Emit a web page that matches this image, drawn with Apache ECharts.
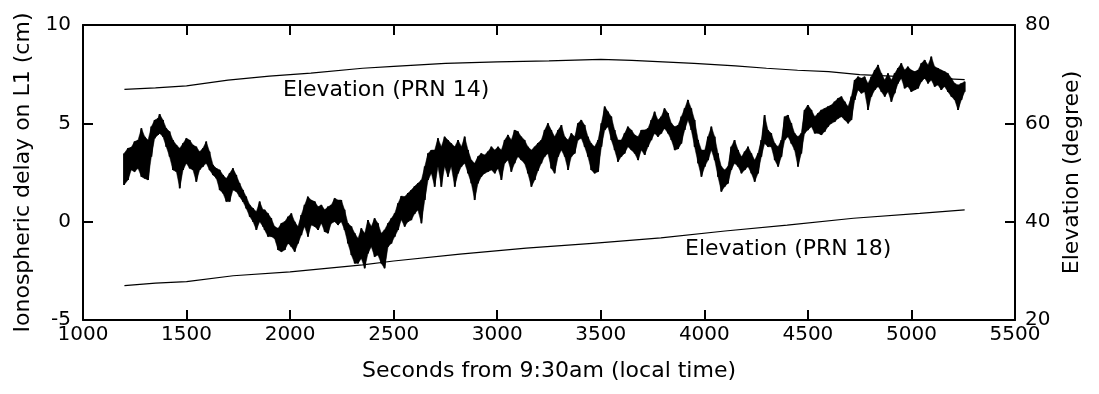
<!DOCTYPE html>
<html>
<head>
<meta charset="utf-8">
<script src="https://cdn.jsdelivr.net/npm/echarts@6/dist/echarts.min.js"></script>
<style>
  html, body { margin: 0; padding: 0; background: #fff; }
  #main { width: 1099px; height: 394px; }
</style>
</head>
<body>
<div id="main"></div>
<script>
// seconds from 9:30am, with the upper / lower edge of the noisy delay trace (cm)
const seconds = [
  1198, 1217, 1233, 1249, 1266, 1282, 1298, 1314, 1330, 1346, 1362, 1370, 1386, 1402, 1418, 1434, 1451, 1467, 1483, 1499,
  1515, 1531, 1547, 1563, 1579, 1595, 1611, 1628, 1644, 1660, 1676, 1692, 1708, 1724, 1740, 1756, 1772, 1788, 1805, 1821,
  1837, 1853, 1869, 1877, 1893, 1909, 1925, 1942, 1958, 1974, 1990, 2006, 2022, 2038, 2054, 2070, 2086, 2102, 2119, 2135,
  2151, 2167, 2183, 2199, 2215, 2231, 2247, 2263, 2279, 2296, 2312, 2328, 2344, 2360, 2376, 2392, 2408, 2424, 2440, 2456,
  2473, 2489, 2505, 2521, 2537, 2553, 2569, 2585, 2601, 2617, 2634, 2650, 2666, 2682, 2698, 2714, 2730, 2746, 2762, 2778,
  2795, 2811, 2827, 2843, 2859, 2875, 2891, 2907, 2923, 2939, 2955, 2972, 2988, 3004, 3020, 3036, 3052, 3068, 3084, 3100,
  3116, 3132, 3148, 3165, 3181, 3197, 3213, 3229, 3245, 3261, 3277, 3294, 3310, 3326, 3342, 3358, 3374, 3390, 3406, 3422,
  3438, 3454, 3470, 3487, 3503, 3519, 3535, 3551, 3567, 3583, 3599, 3615, 3631, 3648, 3664, 3680, 3696, 3712, 3728, 3744,
  3760, 3776, 3792, 3808, 3825, 3841, 3857, 3873, 3889, 3905, 3921, 3937, 3953, 3970, 3986, 4002, 4018, 4034, 4050, 4066,
  4082, 4098, 4114, 4130, 4146, 4163, 4179, 4195, 4211, 4227, 4243, 4259, 4275, 4291, 4307, 4323, 4340, 4356, 4372, 4388,
  4404, 4420, 4436, 4452, 4468, 4484, 4500, 4517, 4533, 4549, 4565, 4581, 4597, 4613, 4629, 4646, 4662, 4678, 4694, 4710,
  4726, 4742, 4758, 4774, 4790, 4806, 4823, 4839, 4855, 4871, 4887, 4903, 4919, 4935, 4951, 4967, 4983, 4999, 5016, 5032,
  5048, 5064, 5080, 5096, 5112, 5128, 5144, 5160, 5176, 5193, 5209, 5225, 5241, 5257
];
const delayHigh = [
  3.47, 3.73, 3.78, 4.07, 4.15, 4.75, 4.32, 4.15, 4.83, 5.17, 5.25, 5.47, 5.17, 4.75, 4.58, 4.15, 3.9, 3.73, 3.98, 4.24,
  4.15, 3.9, 3.81, 3.56, 3.73, 4.07, 3.56, 2.88, 2.71, 2.63, 2.37, 2.2, 2.46, 2.71, 2.37, 1.95, 1.61, 1.27, 0.85, 0.68,
  0.51, 1.02, 0.6, 0.6, 0.42, 0.17, -0.25, -0.34, -0.08, 0, 0.25, 0.42, 0, -0.25, 0.34, 0.85, 1.27, 1.1, 1.02, 0.76,
  0.85, 0.6, 0.76, 0.85, 1.19, 1.1, 1.1, 0.6, -0.08, -0.25, -0.59, -0.85, -0.34, -0.59, 0.08, -0.25, 0.17, -0.08, -0.59, -0.42,
  -0.08, 0.17, 0.42, 0.93, 1.3, 1.27, 1.45, 1.61, 1.8, 1.95, 2.12, 2.8, 3.47, 3.64, 3.64, 4.24, 3.81, 4.32, 4.15, 3.98,
  3.81, 4.15, 3.81, 4.32, 3.64, 3.13, 2.97, 3.31, 3.47, 3.39, 3.56, 3.81, 3.64, 3.81, 3.64, 4.15, 4.41, 4.15, 4.66, 4.58,
  4.32, 4.15, 3.81, 3.64, 3.81, 4.0, 4.15, 4.66, 5.0, 4.66, 4.32, 4.66, 4.91, 4.32, 4.15, 4.49, 4.32, 5.0, 5.17, 4.91,
  4.32, 3.98, 3.81, 4.15, 5.0, 5.85, 5.59, 5.34, 4.66, 4.15, 4.15, 4.49, 4.83, 4.66, 4.41, 4.32, 4.66, 4.66, 4.74, 5.17,
  5.59, 5.17, 5.34, 5.76, 5.51, 5.0, 4.83, 4.9, 5.34, 5.76, 6.19, 5.76, 5.17, 4.15, 3.64, 3.64, 4.32, 4.83, 4.32, 3.47,
  2.8, 2.63, 2.8, 3.81, 4.15, 3.64, 3.3, 3.56, 3.81, 3.47, 3.13, 3.47, 4.15, 5.42, 4.66, 4.49, 3.98, 3.81, 4.15, 5.34,
  5.42, 5.0, 4.49, 4.32, 4.49, 5.68, 5.93, 5.68, 5.34, 5.51, 5.68, 5.76, 5.85, 5.93, 6.1, 6.27, 6.36, 6.1, 5.85, 6.36,
  7.2, 7.37, 7.29, 7.37, 7.03, 7.37, 7.71, 7.97, 7.54, 7.2, 7.54, 7.2, 7.54, 7.8, 8.05, 7.71, 7.88, 7.71, 7.63, 7.71,
  8.05, 8.22, 7.97, 8.39, 7.88, 7.8, 7.71, 7.63, 7.54, 7.29, 7.03, 6.95, 7.03, 7.12
];
const delayLow = [
  1.87, 2.12, 2.63, 2.54, 2.71, 2.29, 2.2, 2.12, 3.31, 4.24, 4.41, 4.49, 4.32, 3.81, 3.31, 2.63, 2.54, 1.7, 2.63, 2.97,
  2.71, 2.63, 2.03, 2.63, 2.8, 2.97, 2.63, 2.37, 2.2, 1.61, 1.44, 1.02, 1.02, 1.61, 1.53, 1.27, 1.02, 0.68, 0.26, 0,
  -0.42, 0, -0.25, -0.42, -0.76, -0.76, -0.85, -1.44, -1.53, -1.44, -1.1, -1.27, -1.53, -1.1, -0.68, -0.25, -0.76, -0.17, -0.25, -0.42,
  -0.08, -0.51, -0.59, -0.08, 0, -0.17, 0, -0.42, -1.1, -1.7, -2.12, -2.12, -1.87, -2.37, -1.61, -1.27, -1.78, -1.7, -2.12, -2.37,
  -1.27, -1.1, -0.76, -0.42, 0.1, -0.25, 0, 0.08, 0.4, 0.59, -0.08, 1.1, 2.12, 2.46, 1.78, 2.8, 1.78, 2.8, 2.29, 2.8,
  1.78, 2.46, 2.8, 2.97, 2.46, 1.95, 1.1, 1.95, 2.29, 2.46, 2.54, 2.63, 2.46, 2.71, 2.12, 2.97, 3.13, 2.54, 2.97, 3.31,
  3.13, 2.97, 2.46, 1.78, 2.12, 2.6, 2.97, 3.31, 3.47, 2.71, 2.46, 3.31, 3.64, 3.31, 2.63, 3.31, 3.47, 4.15, 4.24, 3.81,
  3.31, 2.63, 2.46, 2.54, 3.81, 4.66, 4.83, 4.15, 3.64, 3.05, 3.31, 3.47, 3.81, 3.64, 3.47, 3.13, 3.64, 3.39, 3.81, 4.15,
  4.49, 4.32, 4.49, 4.74, 4.49, 4.15, 3.64, 3.7, 3.98, 4.66, 5.17, 4.66, 3.81, 2.97, 2.29, 2.8, 3.13, 3.64, 3.13, 2.29,
  1.53, 1.78, 1.95, 2.63, 2.97, 2.8, 2.46, 2.63, 2.8, 2.46, 2.03, 2.46, 3.3, 3.98, 3.81, 3.81, 3.13, 2.8, 3.3, 4.15,
  4.32, 3.98, 3.64, 2.8, 3.47, 4.49, 4.66, 4.83, 4.49, 4.5, 4.41, 4.58, 4.83, 5.0, 5.08, 5.25, 5.34, 5.17, 5.0, 5.17,
  6.19, 6.7, 6.53, 6.61, 5.68, 6.36, 6.7, 6.87, 6.61, 6.36, 6.61, 6.1, 6.53, 7.03, 7.29, 6.78, 6.87, 6.61, 6.7, 6.78,
  7.12, 7.29, 7.03, 7.2, 6.87, 6.95, 6.7, 6.87, 6.61, 6.36, 6.19, 5.68, 6.19, 6.61
];

// satellite elevations (degree)
const prn14Seconds = [1200, 1350, 1500, 1700, 1900, 2100, 2350, 2500, 2750, 3000, 3250, 3500, 3650, 3800, 3950, 4150, 4300, 4450, 4600, 4750, 5000, 5257];
const prn14Elevation = [66.9, 67.2, 67.6, 68.8, 69.6, 70.2, 71.2, 71.6, 72.2, 72.5, 72.7, 73.0, 72.8, 72.5, 72.2, 71.7, 71.2, 70.8, 70.5, 69.9, 69.4, 68.9];
const prn18Seconds = [1200, 1350, 1500, 1725, 2000, 2200, 2350, 2500, 2820, 3140, 3460, 3790, 4100, 4400, 4720, 5040, 5257];
const prn18Elevation = [27.0, 27.5, 27.8, 29.0, 29.8, 30.6, 31.2, 32.0, 33.4, 34.6, 35.6, 36.7, 38.1, 39.3, 40.7, 41.7, 42.4];

const xTicks = [1000, 1500, 2000, 2500, 3000, 3500, 4000, 4500, 5000, 5500];

// noisy trace: a filled band between the edges plus a zig-zag over it
const delayData = [];
seconds.forEach((s, i) => {
  delayData.push([s, delayHigh[i]]);
  delayData.push([s, delayLow[i]]);
});
const bandData = seconds.slice(0, -1).map((s, i) => [s, delayHigh[i], delayLow[i], seconds[i + 1], delayHigh[i + 1], delayLow[i + 1]]);

function renderBand(params, api) {
  const a = api.coord([api.value(0), api.value(1)]);
  const b = api.coord([api.value(3), api.value(4)]);
  const c = api.coord([api.value(3), api.value(5)]);
  const d = api.coord([api.value(0), api.value(2)]);
  return {
    type: 'polygon',
    shape: { points: [a, b, c, d] },
    style: { fill: '#000', stroke: '#000', lineWidth: 0.5 }
  };
}

const font = 'DejaVu Sans';
const axisLine = { show: true, onZero: false, lineStyle: { color: '#000', width: 2 } };
const tick = { show: true, inside: true, length: 10, lineStyle: { color: '#000', width: 2 } };

const chart = echarts.init(document.getElementById('main'), null, { renderer: 'canvas' });
chart.setOption({
  animation: false,
  backgroundColor: '#fff',
  textStyle: { fontFamily: font, color: '#000' },
  grid: { left: 83, right: 84, top: 25, bottom: 74 },
  xAxis: [
    {
      type: 'value', min: xTicks[0], max: xTicks[xTicks.length - 1], interval: 500,
      name: 'Seconds from 9:30am (local time)', nameLocation: 'middle', nameGap: 40,
      nameTextStyle: { fontFamily: font, fontSize: 22, color: '#000' },
      axisLine, axisTick: tick,
      axisLabel: { fontFamily: font, fontSize: 20, color: '#000', margin: 5, formatter: v => String(v) },
      splitLine: { show: false }
    },
    {
      type: 'value', position: 'top', min: xTicks[0], max: xTicks[xTicks.length - 1], interval: 500,
      axisLine, axisTick: tick, axisLabel: { show: false }, splitLine: { show: false }
    }
  ],
  yAxis: [
    {
      type: 'value', min: -5, max: 10, interval: 5,
      name: 'Ionospheric delay on L1 (cm)', nameLocation: 'middle', nameGap: 47, nameRotate: 90,
      nameTextStyle: { fontFamily: font, fontSize: 22, color: '#000' },
      axisLine, axisTick: tick,
      axisLabel: { fontFamily: font, fontSize: 20, color: '#000', margin: 12 },
      splitLine: { show: false }
    },
    {
      type: 'value', position: 'right', min: 20, max: 80, interval: 20,
      name: 'Elevation (degree)', nameLocation: 'middle', nameGap: 42, nameRotate: 90,
      nameTextStyle: { fontFamily: font, fontSize: 22, color: '#000' },
      axisLine, axisTick: tick,
      axisLabel: { fontFamily: font, fontSize: 20, color: '#000', margin: 10 },
      splitLine: { show: false }
    }
  ],
  graphic: [
    { type: 'text', left: 283, top: 79, style: { text: 'Elevation (PRN 14)', font: '22px "DejaVu Sans"', fill: '#000' } },
    { type: 'text', left: 685, top: 238, style: { text: 'Elevation (PRN 18)', font: '22px "DejaVu Sans"', fill: '#000' } }
  ],
  series: [
    {
      name: 'PRN 14', type: 'line', yAxisIndex: 1, symbol: 'none',
      data: prn14Seconds.map((s, i) => [s, prn14Elevation[i]]),
      lineStyle: { color: '#000', width: 1.2 }
    },
    {
      name: 'PRN 18', type: 'line', yAxisIndex: 1, symbol: 'none',
      data: prn18Seconds.map((s, i) => [s, prn18Elevation[i]]),
      lineStyle: { color: '#000', width: 1.2 }
    },
    {
      name: 'band', type: 'custom', yAxisIndex: 0,
      renderItem: renderBand,
      encode: { x: [0, 3], y: [1, 2, 4, 5] },
      data: bandData
    },
    {
      name: 'Ionospheric delay', type: 'line', yAxisIndex: 0, symbol: 'none',
      data: delayData,
      lineStyle: { color: '#000', width: 1.8 }
    }
  ]
});
</script>
</body>
</html>
